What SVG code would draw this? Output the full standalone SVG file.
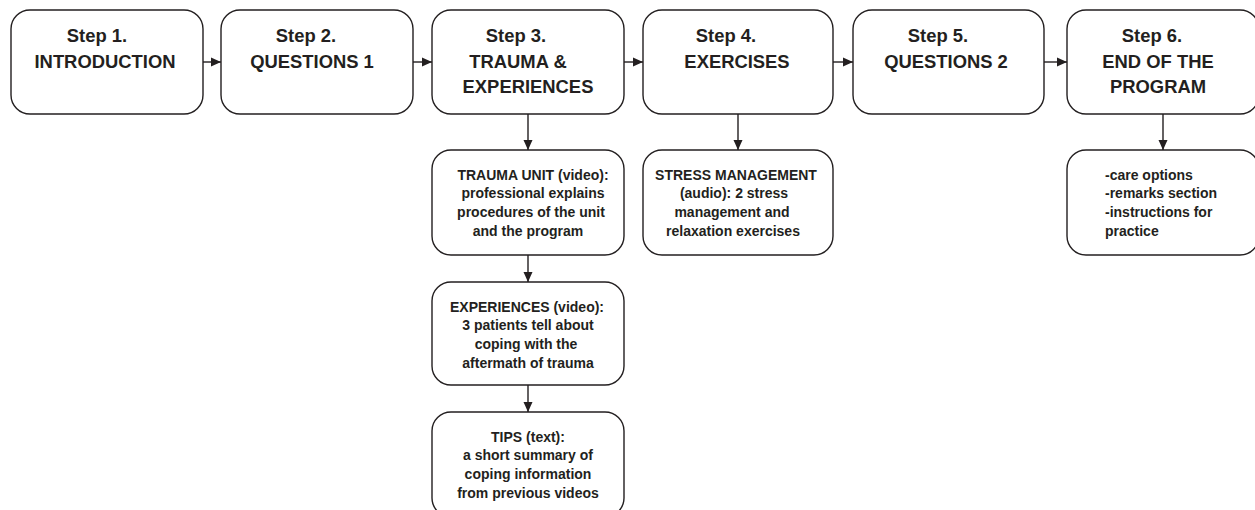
<svg xmlns="http://www.w3.org/2000/svg" width="1255" height="510" viewBox="0 0 1255 510">
<style>
.box{fill:#fff;stroke:#231f20;stroke-width:1.4}
.main{font-family:"Liberation Sans",Arial,sans-serif;font-weight:bold;font-size:18.4px;fill:#231f20;text-anchor:middle}
.sub{font-family:"Liberation Sans",Arial,sans-serif;font-weight:bold;font-size:14px;fill:#231f20;text-anchor:middle}
.left{text-anchor:start}
.con{stroke:#231f20;stroke-width:1.4;fill:none}
</style>
<defs>
<marker id="ah" viewBox="0 0 10 10" refX="10" refY="5" markerWidth="10" markerHeight="10" markerUnits="userSpaceOnUse" orient="auto">
<path d="M0,0.5 L10,5 L0,9.5 Z" fill="#231f20"/>
</marker>
</defs>
<rect width="1255" height="510" fill="#fff"/>
<g id="step1"><rect class="box" x="11" y="10" width="192" height="104" rx="19"/>
<text class="main" x="97" y="42">Step 1.</text><text class="main" x="105" y="68">INTRODUCTION</text></g>
<g id="step2"><rect class="box" x="221" y="10" width="192" height="104" rx="19"/>
<text class="main" x="306" y="42">Step 2.</text><text class="main" x="312" y="68">QUESTIONS 1</text></g>
<g id="step3"><rect class="box" x="432" y="10" width="192" height="104" rx="19"/>
<text class="main" x="516" y="42">Step 3.</text><text class="main" x="518" y="68">TRAUMA &amp;</text><text class="main" x="528" y="93">EXPERIENCES</text></g>
<g id="step4"><rect class="box" x="643" y="10" width="190" height="104" rx="19"/>
<text class="main" x="726" y="42">Step 4.</text><text class="main" x="737" y="68">EXERCISES</text></g>
<g id="step5"><rect class="box" x="853" y="10" width="191" height="104" rx="19"/>
<text class="main" x="938" y="42">Step 5.</text><text class="main" x="946" y="68">QUESTIONS 2</text></g>
<g id="step6"><rect class="box" x="1067" y="10" width="192" height="104" rx="19"/>
<text class="main" x="1152" y="42">Step 6.</text><text class="main" x="1158" y="68">END OF THE</text><text class="main" x="1158" y="93">PROGRAM</text></g>
<g id="trauma-unit"><rect class="box" x="432" y="150" width="192" height="105" rx="19"/>
<text class="sub" x="533" y="180">TRAUMA UNIT (video):</text><text class="sub" x="533" y="198">professional explains</text><text class="sub" x="531" y="217">procedures of the unit</text><text class="sub" x="528" y="236">and the program</text></g>
<g id="stress"><rect class="box" x="643" y="150" width="190" height="105" rx="19"/>
<text class="sub" x="736" y="180">STRESS MANAGEMENT</text><text class="sub" x="734" y="198">(audio): 2 stress</text><text class="sub" x="732" y="217">management and</text><text class="sub" x="733" y="236">relaxation exercises</text></g>
<g id="end-details"><rect class="box" x="1067" y="150" width="192" height="105" rx="19"/>
<text class="sub left" x="1105" y="180">-care options</text><text class="sub left" x="1105" y="198">-remarks section</text><text class="sub left" x="1105" y="217">-instructions for</text><text class="sub left" x="1105" y="236">practice</text></g>
<g id="experiences"><rect class="box" x="432" y="282" width="192" height="103" rx="19"/>
<text class="sub" x="527" y="312">EXPERIENCES (video):</text><text class="sub" x="528" y="330">3 patients tell about</text><text class="sub" x="526" y="349">coping with the</text><text class="sub" x="528" y="368">aftermath of trauma</text></g>
<g id="tips"><rect class="box" x="432" y="412" width="192" height="105" rx="19"/>
<text class="sub" x="528" y="442">TIPS (text):</text><text class="sub" x="528" y="460">a short summary of</text><text class="sub" x="528" y="479">coping information</text><text class="sub" x="528" y="498">from previous videos</text></g>
<g id="connectors">
<line class="con" x1="203" y1="62" x2="221" y2="62" marker-end="url(#ah)"/>
<line class="con" x1="413" y1="62" x2="432" y2="62" marker-end="url(#ah)"/>
<line class="con" x1="624" y1="62" x2="643" y2="62" marker-end="url(#ah)"/>
<line class="con" x1="833" y1="62" x2="853" y2="62" marker-end="url(#ah)"/>
<line class="con" x1="1044" y1="62" x2="1067" y2="62" marker-end="url(#ah)"/>
<line class="con" x1="528" y1="114" x2="528" y2="150" marker-end="url(#ah)"/>
<line class="con" x1="738" y1="114" x2="738" y2="150" marker-end="url(#ah)"/>
<line class="con" x1="1163" y1="114" x2="1163" y2="150" marker-end="url(#ah)"/>
<line class="con" x1="528" y1="255" x2="528" y2="282" marker-end="url(#ah)"/>
<line class="con" x1="528" y1="385" x2="528" y2="412" marker-end="url(#ah)"/>
</g>
</svg>
